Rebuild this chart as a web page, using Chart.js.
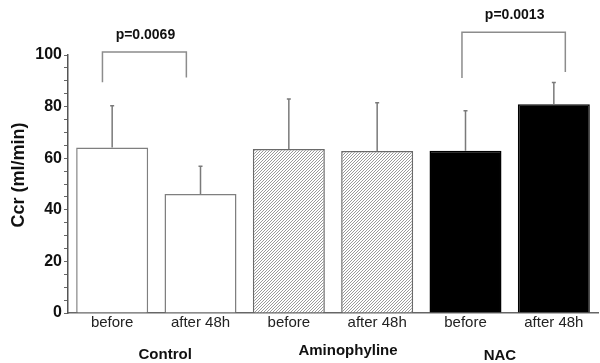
<!DOCTYPE html>
<html>
<head>
<meta charset="utf-8">
<script src="https://cdn.jsdelivr.net/npm/chart.js@4"></script>
<style>
  html, body { margin: 0; padding: 0; background: #fff; }
  #wrap { width: 600px; height: 363px; }
</style>
</head>
<body>
<div id="wrap"><canvas id="myChart"></canvas></div>
<script>
// values
const categories = ['before', 'after 48h', 'before', 'after 48h', 'before', 'after 48h'];
const ccrMean = [64.1, 46.1, 63.6, 62.8, 62.9, 80.9];
const ccrSd = [16.2, 10.8, 19.3, 18.7, 15.5, 8.4];
const groups = ['Control', 'Aminophyline', 'NAC'];
const yTicks = [0, 20, 40, 60, 80, 100];

// significance brackets (category index units / data units)
const pLabels = ['p=0.0069', 'p=0.0013'];
const bracketFrom = [-0.11, 3.96];
const bracketTo = [0.84, 5.13];
const bracketTop = [101.2, 108.8];
const bracketLeftEnd = [89.4, 91.1];
const bracketRightEnd = [91.3, 93.4];

// hatch for the aminophyline bars
function hatch() {
  const c = document.createElement('canvas');
  c.width = 3; c.height = 3;
  const g = c.getContext('2d');
  g.fillStyle = '#fff';
  g.fillRect(0, 0, 3, 3);
  g.strokeStyle = '#9a9a9a';
  g.lineWidth = 1;
  g.beginPath();
  g.moveTo(0, 3); g.lineTo(3, 0);
  g.moveTo(-1, 1); g.lineTo(1, -1);
  g.moveTo(2, 4); g.lineTo(4, 2);
  g.stroke();
  return g.createPattern(c, 'repeat');
}
const pat = hatch();

const extras = {
  id: 'extras',
  afterDatasetsDraw(chart) {
    const ctx = chart.ctx;
    const x = chart.scales.x, y = chart.scales.y;
    const meta = chart.getDatasetMeta(0);
    const step = x.getPixelForValue(1) - x.getPixelForValue(0);
    const fx = f => x.getPixelForValue(0) + f * step;

    ctx.save();
    // error bars (upper only)
    ctx.strokeStyle = '#7a7a7a';
    ctx.lineWidth = 1.5;
    meta.data.forEach((bar, i) => {
      const yt = y.getPixelForValue(ccrMean[i] + ccrSd[i]);
      ctx.beginPath();
      ctx.moveTo(bar.x, bar.y);
      ctx.lineTo(bar.x, yt);
      ctx.moveTo(bar.x - 2, yt);
      ctx.lineTo(bar.x + 2, yt);
      ctx.stroke();
    });

    // brackets
    ctx.strokeStyle = '#8c8c8c';
    ctx.lineWidth = 1.5;
    ctx.fillStyle = '#111';
    ctx.font = 'bold 14px "Liberation Sans", Arial, sans-serif';
    ctx.textAlign = 'center';
    ctx.textBaseline = 'middle';
    pLabels.forEach((lab, i) => {
      const x0 = fx(bracketFrom[i]), x1 = fx(bracketTo[i]);
      const yt = y.getPixelForValue(bracketTop[i]);
      ctx.beginPath();
      ctx.moveTo(x0, y.getPixelForValue(bracketLeftEnd[i]));
      ctx.lineTo(x0, yt);
      ctx.lineTo(x1, yt);
      ctx.lineTo(x1, y.getPixelForValue(bracketRightEnd[i]));
      ctx.stroke();
      ctx.fillText(lab, (x0 + x1) / 2 + 1, yt - 17);
    });

    // group names under the axis
    ctx.font = 'bold 15px "Liberation Sans", Arial, sans-serif';
    const gPos = [0.6, 2.67, 4.39];
    const gY = [355, 351, 356];
    groups.forEach((g, i) => ctx.fillText(g, fx(gPos[i]), gY[i]));

    // y title
    ctx.translate(19, 175);
    ctx.rotate(-Math.PI / 2);
    ctx.font = 'bold 18px "Liberation Sans", Arial, sans-serif';
    ctx.fillText('Ccr (ml/min)', 0, 0);
    ctx.restore();
  }
};

new Chart(document.getElementById('myChart'), {
  type: 'bar',
  data: {
    labels: categories,
    datasets: [{
      data: ccrMean,
      backgroundColor: ['#fff', '#fff', pat, pat, '#000', '#000'],
      borderColor: ['#7f7f7f', '#7f7f7f', '#6a6a6a', '#6a6a6a', '#000', '#000'],
      borderWidth: 1.5,
      barPercentage: 0.815,
      categoryPercentage: 1
    }]
  },
  options: {
    responsive: true,
    maintainAspectRatio: false,
    animation: false,
    layout: { padding: { top: 55, right: 2, left: 0, bottom: 0 } },
    plugins: { legend: { display: false }, tooltip: { enabled: false } },
    scales: {
      x: {
        afterFit: s => { s.height = 50; },
        grid: { display: true, drawOnChartArea: false, drawTicks: false },
        border: { color: '#666', width: 1.5 },
        ticks: {
          color: '#222',
          padding: 1,
          font: { family: '"Liberation Sans", Arial, sans-serif', size: 15 }
        }
      },
      y: {
        min: 0,
        max: 100,
        afterFit: s => { s.width = 68; },
        afterBuildTicks: s => {
          const t = [];
          for (let v = 0; v <= 100; v += 5) t.push({ value: v });
          s.ticks = t;
        },
        grid: { drawOnChartArea: false, tickLength: 4, color: '#666' },
        border: { color: '#555', width: 1.5 },
        ticks: {
          color: '#111',
          padding: 2,
          autoSkip: false,
          font: { family: '"Liberation Sans", Arial, sans-serif', size: 16, weight: 'bold' },
          callback: v => yTicks.includes(v) ? v : ''
        }
      }
    }
  },
  plugins: [extras]
});
</script>
</body>
</html>
